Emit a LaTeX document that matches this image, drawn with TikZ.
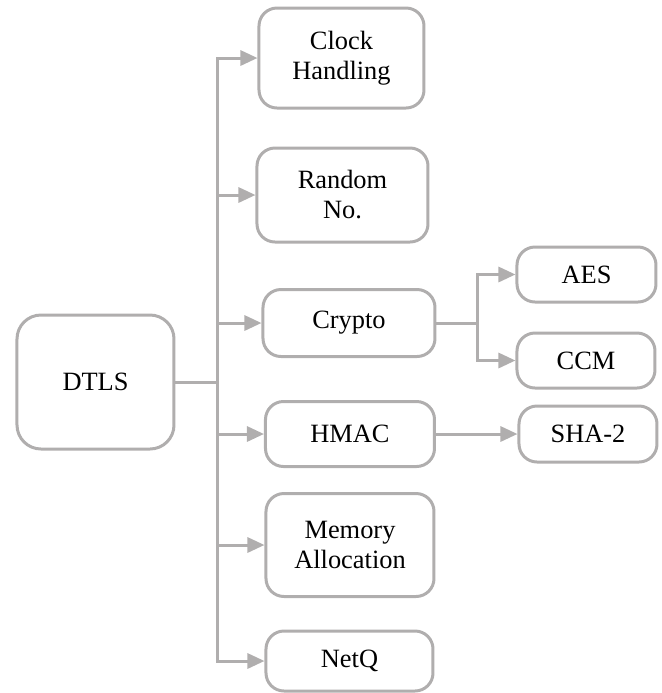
\documentclass[tikz,border=0pt]{standalone}
\usepackage{fontspec}
\setmainfont{Liberation Serif}
\usetikzlibrary{arrows.meta}
\definecolor{linegray}{RGB}{176,174,174}
\tikzset{
  box/.style={draw=linegray, line width=1.5pt, rounded corners=9pt, align=center,
    inner sep=0pt, font=\fontsize{13.2}{15}\selectfont},
  link/.style={draw=linegray, line width=1.5pt, line cap=rect},
  arr/.style={link, -{Triangle[length=8.5pt,width=7.5pt]}}
}
\begin{document}
\begin{tikzpicture}[x=0.5pt,y=-0.5pt]
\useasboundingbox (0,0) rectangle (662,693);
\node[box, minimum width=78.5pt, minimum height=67pt, rounded corners=12pt] (dtls) at (95.5,382) {DTLS};
\node[box, minimum width=82.5pt, minimum height=50pt] (clock) at (341.5,58) {Clock\\Handling};
\node[box, minimum width=85.5pt, minimum height=47pt] (random) at (342.5,195) {Random\\No.};
\node[box, minimum width=86pt, minimum height=33.5pt] (crypto) at (349,323) {Crypto};
\node[box, minimum width=84.5pt, minimum height=32.5pt] (hmac) at (350,434) {HMAC};
\node[box, minimum width=84pt, minimum height=51.5pt] (memory) at (350,545) {Memory\\Allocation};
\node[box, minimum width=83.5pt, minimum height=30pt] (netq) at (349.5,661) {NetQ};
\node[box, minimum width=69.5pt, minimum height=27.5pt] (aes) at (586.5,274.5) {AES};
\node[box, minimum width=69pt, minimum height=27.5pt] (ccm) at (586,360.5) {CCM};
\node[box, minimum width=69pt, minimum height=28pt] (sha) at (588,434) {SHA-2};

\coordinate (trunk) at (218,382);
\coordinate (fork) at (478,323);

\draw[link] (dtls.east) -- (trunk);
\draw[link] (trunk |- clock.west) -- (trunk |- netq.west);
\foreach \n in {clock,random,crypto,hmac,memory,netq}
{
    \draw[arr] (trunk |- \n.west) -- (\n.west);
}
\draw[link] (crypto.east) -- (fork);
\draw[link] (fork |- aes.west) -- (fork |- ccm.west);
\foreach \n in {aes,ccm}
{
    \draw[arr] (fork |- \n.west) -- (\n.west);
}
\draw[arr] (hmac.east) -- (sha.west);
\end{tikzpicture}
\end{document}
